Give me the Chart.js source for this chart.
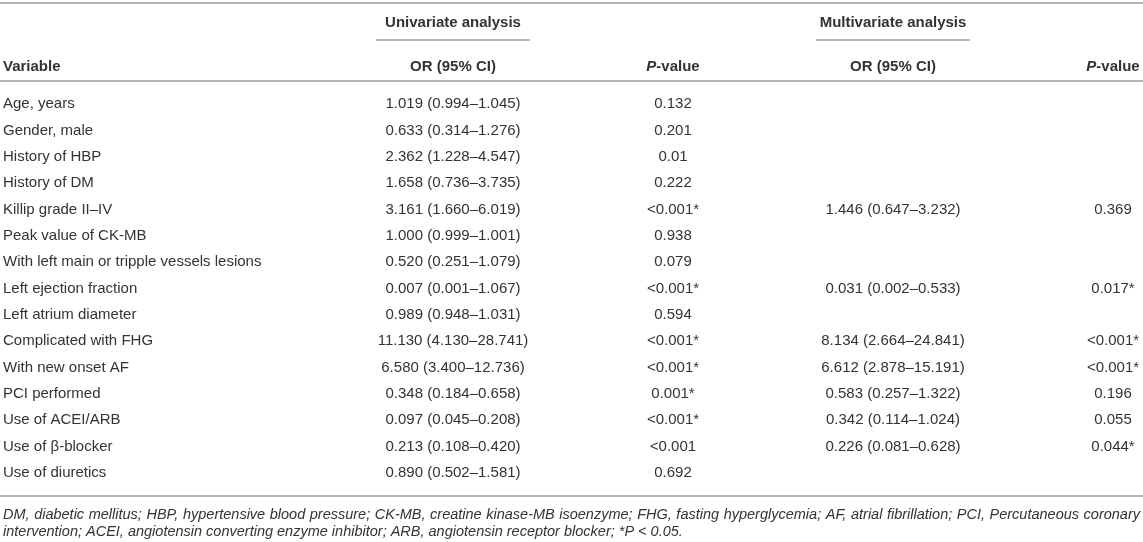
<!DOCTYPE html>
<html>
<head>
<meta charset="utf-8">
<script src="https://cdn.jsdelivr.net/npm/chart.js@4"></script>
<style>
  html, body { margin: 0; padding: 0; background: #fff; }
  #wrap { width: 1143px; height: 542px; position: relative; }
</style>
</head>
<body>
<div id="wrap"><canvas id="tableChart"></canvas></div>
<script>
// Table content
const variables = [
  'Age, years', 'Gender, male', 'History of HBP', 'History of DM', 'Killip grade II\u2013IV',
  'Peak value of CK-MB', 'With left main or tripple vessels lesions', 'Left ejection fraction',
  'Left atrium diameter', 'Complicated with FHG', 'With new onset AF', 'PCI performed',
  'Use of ACEI/ARB', 'Use of \u03b2-blocker', 'Use of diuretics'
];
const uniOR = [
  '1.019 (0.994\u20131.045)', '0.633 (0.314\u20131.276)', '2.362 (1.228\u20134.547)', '1.658 (0.736\u20133.735)',
  '3.161 (1.660\u20136.019)', '1.000 (0.999\u20131.001)', '0.520 (0.251\u20131.079)', '0.007 (0.001\u20131.067)',
  '0.989 (0.948\u20131.031)', '11.130 (4.130\u201328.741)', '6.580 (3.400\u201312.736)', '0.348 (0.184\u20130.658)',
  '0.097 (0.045\u20130.208)', '0.213 (0.108\u20130.420)', '0.890 (0.502\u20131.581)'
];
const uniP = [
  '0.132', '0.201', '0.01', '0.222', '<0.001*', '0.938', '0.079', '<0.001*',
  '0.594', '<0.001*', '<0.001*', '0.001*', '<0.001*', '<0.001', '0.692'
];
const multiOR = [
  '', '', '', '', '1.446 (0.647\u20133.232)', '', '', '0.031 (0.002\u20130.533)',
  '', '8.134 (2.664\u201324.841)', '6.612 (2.878\u201315.191)', '0.583 (0.257\u20131.322)',
  '0.342 (0.114\u20131.024)', '0.226 (0.081\u20130.628)', ''
];
const multiP = [
  '', '', '', '', '0.369', '', '', '0.017*', '', '<0.001*', '<0.001*', '0.196', '0.055', '0.044*', ''
];
const columns = ['uniOR', 'uniP', 'multiOR', 'multiP'];
const groupTitles = ['Univariate analysis', 'Multivariate analysis'];
const footnotes = [
  'DM, diabetic mellitus; HBP, hypertensive blood pressure; CK-MB, creatine kinase-MB isoenzyme; FHG, fasting hyperglycemia; AF, atrial fibrillation; PCI, Percutaneous coronary',
  'intervention; ACEI, angiotensin converting enzyme inhibitor; ARB, angiotensin receptor blocker; *P < 0.05.'
];

const FONT = '"Liberation Sans", Arial, Helvetica, sans-serif';
const TEXT = '#333333';
const RULE = '#b4b4b4';

function cells(col, texts) {
  return {
    label: col,
    texts: texts,
    data: variables.map(v => ({ x: col, y: v })),
    pointRadius: 0,
    pointHoverRadius: 0
  };
}

// draws the cell strings at the point positions, plus header, rules and notes
const tablePlugin = {
  id: 'tableText',
  afterDatasetsDraw(chart) {
    const ctx = chart.ctx;
    const area = chart.chartArea;
    const xs = chart.scales.x;
    const W = chart.width;
    const left = area.left - 450;
    ctx.save();
    ctx.fillStyle = TEXT;
    ctx.textBaseline = 'middle';
    ctx.textAlign = 'center';
    ctx.font = '15px ' + FONT;
    chart.data.datasets.forEach((ds, di) => {
      chart.getDatasetMeta(di).data.forEach((pt, i) => {
        if (ds.texts[i]) ctx.fillText(ds.texts[i], pt.x, pt.y);
      });
    });

    // rules
    ctx.strokeStyle = RULE;
    ctx.lineWidth = 2;
    const hline = (x1, x2, y) => { ctx.beginPath(); ctx.moveTo(x1, y); ctx.lineTo(x2, y); ctx.stroke(); };
    hline(0, W, area.top - 88);
    hline(0, W, area.top - 10);
    hline(0, W, area.bottom + 10);

    // group titles with underline
    ctx.font = 'bold 15px ' + FONT;
    [0, 2].forEach((c, g) => {
      const cx = xs.getPixelForValue(c);
      ctx.fillText(groupTitles[g], cx, area.top - 68);
      hline(cx - 77, cx + 77, area.top - 51);
    });

    // column headers
    const hy = area.top - 24;
    ctx.textAlign = 'left';
    ctx.fillText('Variable', left, hy);
    [0, 1, 2, 3].forEach(c => {
      const cx = xs.getPixelForValue(c);
      if (c % 2 === 0) {
        ctx.textAlign = 'center';
        ctx.font = 'bold 15px ' + FONT;
        ctx.fillText('OR (95% CI)', cx, hy);
      } else {
        ctx.textAlign = 'left';
        ctx.font = 'italic bold 15px ' + FONT;
        const w1 = ctx.measureText('P').width;
        ctx.font = 'bold 15px ' + FONT;
        const w2 = ctx.measureText('-value').width;
        const x0 = cx - (w1 + w2) / 2;
        ctx.font = 'italic bold 15px ' + FONT;
        ctx.fillText('P', x0, hy);
        ctx.font = 'bold 15px ' + FONT;
        ctx.fillText('-value', x0 + w1, hy);
      }
    });

    // footnotes, first line justified to the full width
    ctx.textAlign = 'left';
    ctx.font = 'italic 14.5px ' + FONT;
    const words = footnotes[0].split(' ');
    const sum = words.reduce((s, w) => s + ctx.measureText(w).width, 0);
    const gap = (W - 3 - left - sum) / (words.length - 1);
    let x = left;
    words.forEach(w => { ctx.fillText(w, x, area.bottom + 29); x += ctx.measureText(w).width + gap; });
    ctx.fillText(footnotes[1], left, area.bottom + 46);
    ctx.restore();
  }
};

const chart = new Chart(document.getElementById('tableChart'), {
  type: 'scatter',
  data: {
    datasets: [
      cells('uniOR', uniOR),
      cells('uniP', uniP),
      cells('multiOR', multiOR),
      cells('multiP', multiP)
    ]
  },
  options: {
    responsive: true,
    maintainAspectRatio: false,
    animation: false,
    events: [],
    layout: { padding: { left: 3, right: 30, top: 91, bottom: 56 } },
    plugins: { legend: { display: false }, tooltip: { enabled: false } },
    scales: {
      x: {
        type: 'category',
        labels: columns,
        offset: false,
        display: false
      },
      y: {
        type: 'category',
        labels: variables,
        offset: true,
        grid: { display: false },
        border: { display: false },
        afterFit(scale) { scale.width = 450; },
        ticks: {
          crossAlign: 'far',
          padding: 0,
          color: TEXT,
          font: { size: 15, family: FONT }
        }
      }
    }
  },
  plugins: [tablePlugin]
});
</script>
</body>
</html>
